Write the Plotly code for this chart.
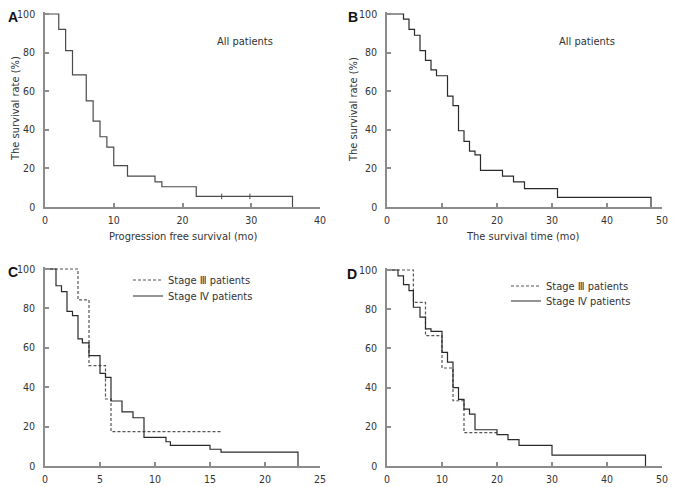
import plotly.graph_objects as go

# the page body adds an 8px margin, so the figure is drawn 8px in from the window corner
OFF = 8
W, H = 676 - OFF, 487 - OFF

# ---- data ----
a_time = [0, 2, 3, 4, 6, 7, 8, 9, 10, 12, 16, 17, 22, 36]
a_surv = [100, 92, 81, 68.5, 55, 44.5, 36.4, 31, 21.4, 16, 13, 10.5, 5.5, 0]
a_cens_time = [25.7, 29.8]
a_cens_surv = [5.5, 5.5]

b_time = [0, 3, 4, 5, 6, 7, 8, 9, 11, 12, 13, 14, 15, 16, 17, 21, 23, 25, 31, 48]
b_surv = [100, 97.3, 92, 89, 81, 76, 71, 68, 57.5, 52.5, 39.5, 34, 29, 27, 19, 16, 13, 9.5, 5, 0]

c3_time = [0, 3, 4, 5.5, 6, 16]
c3_surv = [100, 84.3, 51, 34, 17.5, 17.5]
c4_time = [0, 1, 1.5, 2, 2.5, 3, 3.4, 4, 5, 5.5, 6, 7, 8, 9, 11, 11.4, 15, 16, 23]
c4_surv = [100, 91.5, 88.5, 78.5, 76.3, 64.5, 62.5, 56, 47, 45, 33, 27.5, 24.5, 14.5, 12.3, 10.5, 8.5, 7, 0]

d3_time = [0, 4.8, 7, 10, 12, 14, 20]
d3_surv = [100, 83.5, 66.5, 50, 33.3, 17, 17]
d4_time = [0, 2, 3, 4, 4.8, 6, 7, 8, 10, 11, 12, 13, 14, 15, 16, 20, 22, 24, 30, 47]
d4_surv = [100, 97, 92.5, 89.5, 81, 76, 70, 68.7, 58, 53, 40, 34, 29, 26.5, 18.5, 16, 13.5, 10.5, 5.5, 0]

y_ticks = [0, 20, 40, 60, 80, 100]
label_a = "A"; label_b = "B"; label_c = "C"; label_d = "D"
ytitle = "The survival rate (%)"
xtitle_a = "Progression free survival (mo)"
xtitle_b = "The survival time (mo)"
note_all = "All patients"
name3 = "Stage Ⅲ patients"
name4 = "Stage Ⅳ patients"

FONT = "DejaVu Sans Condensed, DejaVu Sans, sans-serif"
BOLDFONT = "Liberation Sans, Arial, sans-serif"
TXT = "#333333"
AX = "#8c8c8c"
DARK = "#2a2a2a"

def px(x):
    return (x - OFF) / W

def py(y):
    return 1 - (y - OFF) / H

# panel geometry in window pixels: (x0px, xmaxpx, xmax, dtick, y0px, y100px)
panels = {
    "1": (45, 320, 40, 10, 207, 14),
    "2": (387, 662, 50, 10, 207, 14),
    "3": (45, 320, 25, 5, 466, 269),
    "4": (387, 662, 50, 10, 466, 270),
}

fig = go.Figure()

def add_step(x, y, ax, color, dash="solid", name=None, legend=None, width=1.2):
    fig.add_trace(go.Scatter(
        x=x, y=y, mode="lines", line=dict(shape="hv", color=color, width=width, dash=dash),
        xaxis="x" + ax, yaxis="y" + ax, name=name,
        showlegend=name is not None, legend=legend, hoverinfo="skip"))

add_step(a_time, a_surv, "", "#4a4a4a")
fig.add_trace(go.Scatter(x=a_cens_time, y=a_cens_surv, mode="markers",
                         marker=dict(symbol="line-ns", size=4, line=dict(color="#4a4a4a", width=1)),
                         xaxis="x", yaxis="y", showlegend=False, hoverinfo="skip"))
add_step(b_time, b_surv, "2", DARK)
add_step(c3_time, c3_surv, "3", "#555555", dash="3px,2px", name=name3, legend="legend")
add_step(c4_time, c4_surv, "3", DARK, name=name4, legend="legend2")
add_step(d3_time, d3_surv, "4", "#555555", dash="3px,2px", name=name3, legend="legend3")
add_step(d4_time, d4_surv, "4", DARK, name=name4, legend="legend4")

layout = dict(width=W, height=H, margin=dict(l=0, r=0, t=0, b=0, autoexpand=False),
              template="none",
              paper_bgcolor="white", plot_bgcolor="white",
              font=dict(family=FONT, size=11, color=TXT))

for k, (x0p, x1p, xmax, dt, y0p, y100p) in panels.items():
    s = "" if k == "1" else k
    ppu = (y0p - y100p) / 100.0
    ytop = y0p - 101 * ppu
    common = dict(showline=True, linecolor=AX, linewidth=1.5, ticks="inside", ticklen=4,
                  tickcolor=AX, tickwidth=1.5, showgrid=False, zeroline=False, automargin=False,
                  ticklabeloverflow="allow",
                  tickfont=dict(family=FONT, size=10.5, color=TXT))
    layout["xaxis" + s] = dict(domain=[px(x0p), px(x1p)], range=[0, xmax], dtick=dt, tick0=0,
                               anchor="y" + s, ticklabelstandoff=3, **common)
    layout["yaxis" + s] = dict(domain=[py(y0p), py(ytop)], range=[0, 101], tickvals=y_ticks,
                               anchor="x" + s, ticklabelstandoff=6, **common)

def leg(xp, yp):
    return dict(x=px(xp), y=py(yp), xanchor="left", yanchor="middle",
                bgcolor="rgba(0,0,0,0)", font=dict(family=FONT, size=11, color=TXT),
                itemwidth=30, borderwidth=0)

layout["legend"] = leg(128, 280)
layout["legend2"] = leg(128, 296)
layout["legend3"] = leg(506, 286)
layout["legend4"] = leg(506, 301)

def ann(text, xp, yp, size=11, angle=0, yanchor="middle"):
    return dict(text=text, x=px(xp), y=py(yp),
                xref="paper", yref="paper", showarrow=False, xanchor="center", yanchor=yanchor,
                textangle=angle, font=dict(family=FONT, size=size, color=TXT))

def letter(text, xp, ytop):
    return dict(text="<b>%s</b>" % text, x=px(xp), y=py(ytop), xref="paper", yref="paper",
                showarrow=False, xanchor="center", yanchor="top", borderpad=0,
                font=dict(family=BOLDFONT, size=14, color="#111111"))

layout["annotations"] = [
    letter(label_a, 12.5, 8),
    letter(label_b, 353, 8),
    letter(label_c, 12.5, 263),
    letter(label_d, 352, 265),
    ann(ytitle, 16, 109, angle=-90),
    ann(ytitle, 354, 110, angle=-90),
    ann(xtitle_a, 183, 237),
    ann(xtitle_b, 523, 237),
    ann(note_all, 245, 41),
    ann(note_all, 587, 41),
]

fig.update_layout(**layout)
fig.write_html("out.html")
